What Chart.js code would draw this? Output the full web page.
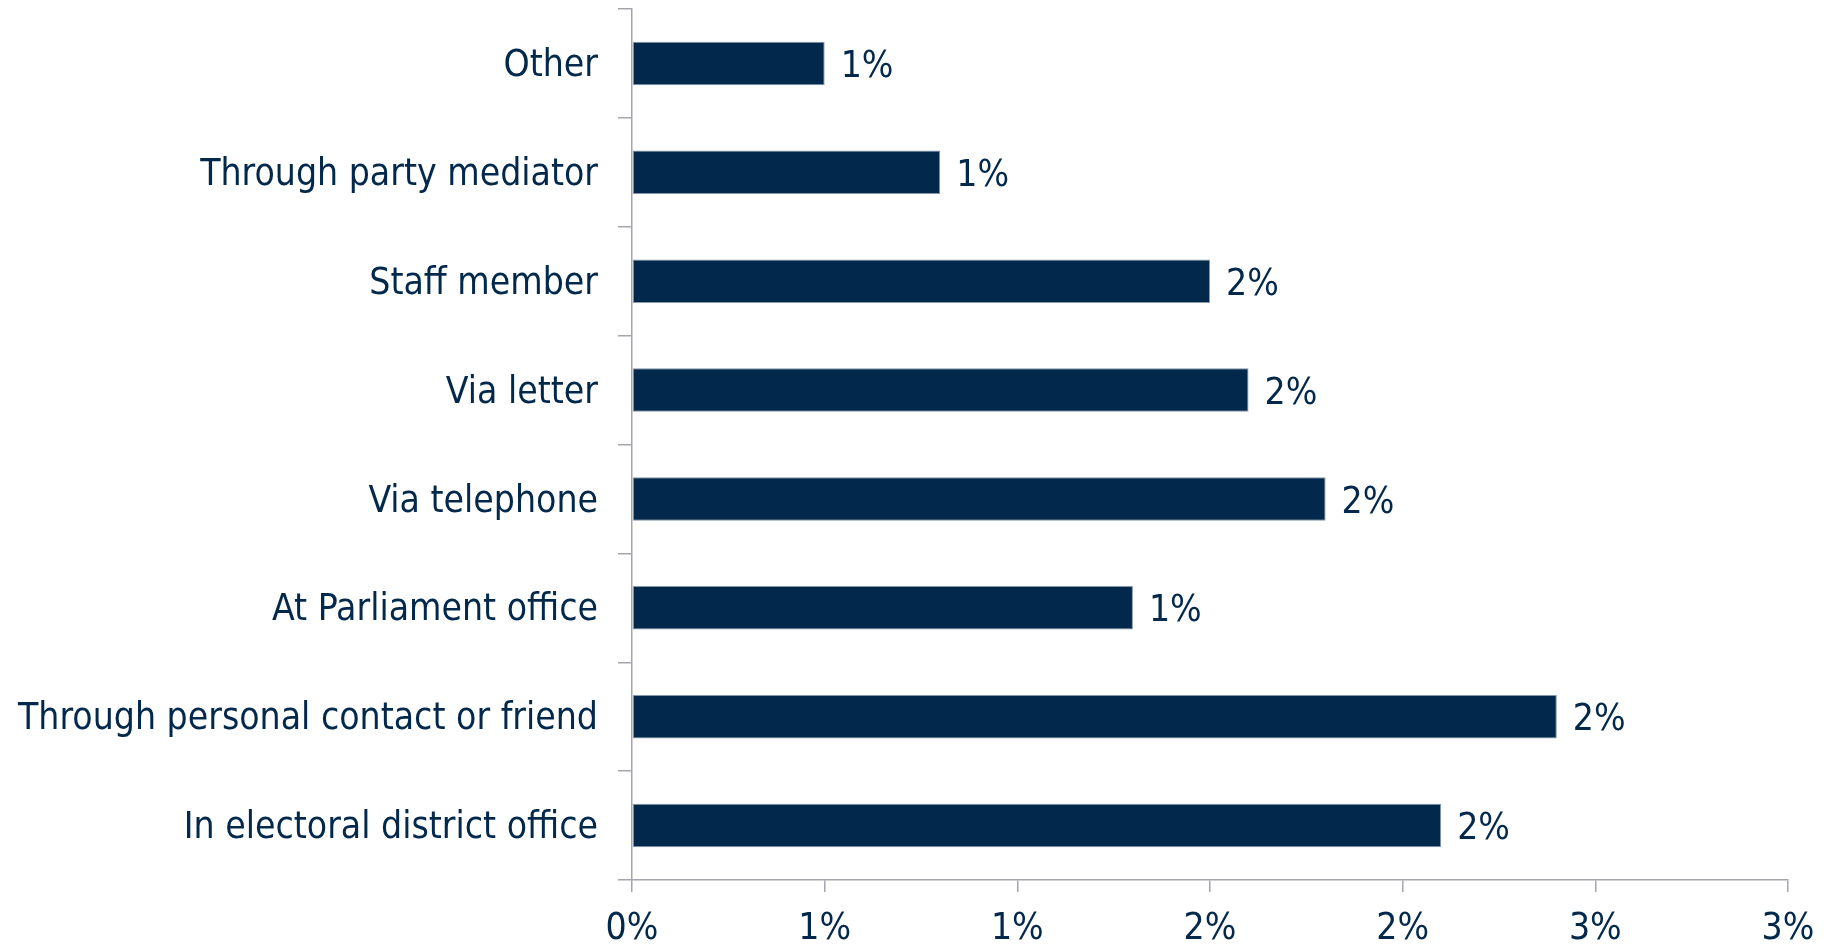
<!DOCTYPE html>
<html>
<head>
<meta charset="utf-8">
<script src="https://cdn.jsdelivr.net/npm/chart.js@4"></script>
<style>
  body { margin: 0; background: #fff; }
</style>
</head>
<body>
<canvas id="contactChart" width="1835" height="945"></canvas>
<script>
// categories, top to bottom
var channelLabels = [
    'Other',
    'Through party mediator',
    'Staff member',
    'Via letter',
    'Via telephone',
    'At Parliament office',
    'Through personal contact or friend',
    'In electoral district office'
];
// share of respondents, percent
var channelShares = [0.5, 0.8, 1.5, 1.6, 1.8, 1.3, 2.4, 2.1];

var navy = '#02284b';
var axisGrey = '#a3a6ad';
var fontFamily = "'Liberation Sans Narrow', 'DejaVu Sans Condensed', 'Open Sans', sans-serif";
var fontSize = 37;

function pct(v) {
    return Math.round(v) + '%';
}

//value labels next to the bars
var barLabels = {
    id: 'barLabels',
    afterDatasetsDraw: function (chart) {
        var ctx = chart.ctx;
        var meta = chart.getDatasetMeta(0);
        ctx.save();
        ctx.fillStyle = navy;
        ctx.font = fontSize + 'px ' + fontFamily;
        ctx.textBaseline = 'middle';
        ctx.textAlign = 'left';
        meta.data.forEach(function (bar, i) {
            ctx.fillText(pct(channelShares[i]), bar.x + 16, bar.y + 4);
        });
        ctx.restore();
    }
};

new Chart(document.getElementById('contactChart'), {
    type: 'bar',
    data: {
        labels: channelLabels,
        datasets: [{
            data: channelShares,
            backgroundColor: navy,
            borderColor: '#8796a8',
            borderWidth: 1,
            borderSkipped: false,
            categoryPercentage: 1,
            barPercentage: 0.4
        }]
    },
    options: {
        indexAxis: 'y',
        responsive: false,
        animation: false,
        layout: { padding: { top: 9, right: 47, left: 0, bottom: 0 } },
        plugins: {
            legend: { display: false },
            tooltip: { enabled: false }
        },
        scales: {
            x: {
                min: 0,
                max: 3,
                afterFit: function (scale) { scale.height = 65; },
                ticks: {
                    stepSize: 0.5,
                    color: navy,
                    padding: 15,
                    maxRotation: 0,
                    font: { family: fontFamily, size: fontSize },
                    callback: function (v) { return pct(v); }
                },
                grid: {
                    drawOnChartArea: false,
                    tickLength: 12,
                    color: axisGrey,
                    lineWidth: 1.5
                },
                border: { color: axisGrey, width: 1.5 }
            },
            y: {
                afterFit: function (scale) {
                    scale.width = 632;
                    scale.paddingTop = 0;
                    scale.paddingBottom = 0;
                },
                ticks: {
                    color: navy,
                    padding: 20,
                    labelOffset: 3,
                    font: { family: fontFamily, size: fontSize }
                },
                grid: {
                    offset: true,
                    drawOnChartArea: false,
                    tickLength: 14,
                    color: axisGrey,
                    lineWidth: 1.5
                },
                border: { color: axisGrey, width: 1.5 }
            }
        }
    },
    plugins: [barLabels]
});
</script>
</body>
</html>
